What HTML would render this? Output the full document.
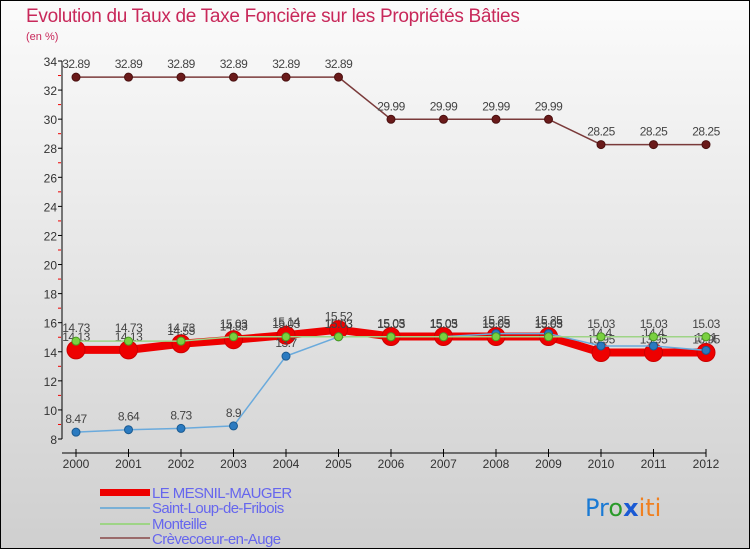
<!DOCTYPE html>
<html><head><meta charset="utf-8"><style>
body{margin:0;width:750px;height:550px;overflow:hidden;font-family:"Liberation Sans",sans-serif}
svg{display:block}
</style></head><body>
<svg id="c" width="750" height="550" xmlns="http://www.w3.org/2000/svg">
<defs><linearGradient id="bg" x1="0" y1="0" x2="0" y2="1"><stop offset="0" stop-color="#fbfbfb"/><stop offset="1" stop-color="#cfcfcf"/></linearGradient></defs>
<rect x="0.5" y="0.5" width="749" height="548" fill="url(#bg)" stroke="#000"/>
<text x="26" y="22" font-size="19" fill="#c8285a" letter-spacing="-0.3">Evolution du Taux de Taxe Foncière sur les Propriétés Bâties</text>
<text x="26" y="40" font-size="11" fill="#c8285a">(en %)</text>
<g id="axes"></g><g id="series"></g>
<g font-size="15" letter-spacing="-0.6">
<rect x="100" y="489" width="50" height="7" fill="#e00"/>
<text x="152" y="498" fill="#6666ee">LE MESNIL-MAUGER</text>
<rect x="100" y="507" width="50" height="2" fill="#7ab0d6"/>
<text x="152" y="513" fill="#6666ee">Saint-Loup-de-Fribois</text>
<rect x="100" y="523" width="50" height="2" fill="#9ed486"/>
<text x="152" y="529" fill="#6666ee">Monteille</text>
<rect x="100" y="537" width="50" height="2" fill="#9a6a6a"/>
<text x="152" y="544" fill="#6666ee">Crèvecoeur-en-Auge</text>
</g>
<g font-size="24" font-family="'DejaVu Sans',sans-serif">
<text x="585" y="516"><tspan fill="#1a7ad4">Pr</tspan><tspan fill="#2a9a2a">o</tspan><tspan fill="#1a5ad4" font-weight="bold">x</tspan><tspan fill="#f08020">iti</tspan></text>
</g>
</svg>
<script>
const years=[2000,2001,2002,2003,2004,2005,2006,2007,2008,2009,2010,2011,2012];
const yTicks=[8,10,12,14,16,18,20,22,24,26,28,30,32,34];
const mesnil=[14.13,14.13,14.55,14.83,15.14,15.52,15.05,15.05,15.05,15.05,13.95,13.95,13.95];
const saintLoup=[8.47,8.64,8.73,8.9,13.7,15.03,15.03,15.03,15.25,15.25,14.4,14.4,14.1];
const monteille=[14.73,14.73,14.73,15.03,15.03,15.03,15.03,15.03,15.03,15.03,15.03,15.03,15.03];
const crevecoeur=[32.89,32.89,32.89,32.89,32.89,32.89,29.99,29.99,29.99,29.99,28.25,28.25,28.25];
const NS="http://www.w3.org/2000/svg";
const x=i=>76+i*52.5, y=v=>439-(v-8)*378/26;
function mk(t,a,p){const e=document.createElementNS(NS,t);for(const k in a)e.setAttribute(k,a[k]);p.appendChild(e);return e;}
const ax=document.getElementById('axes'), sg=document.getElementById('series');
let l=mk('line',{x1:62,y1:61,x2:62,y2:439,stroke:'#000'},ax);


l=mk('line',{x1:62,y1:453,x2:706,y2:453,stroke:'#000'},ax);


yTicks.forEach(v=>{mk('line',{x1:58,y1:y(v),x2:62,y2:y(v),stroke:'#000'},ax);
 if(v<34) mk('line',{x1:58,y1:y(v+1),x2:61,y2:y(v+1),stroke:'#e00'},ax);
 const t=mk('text',{x:57,y:y(v)+5,'text-anchor':'end','font-size':12,fill:'#333'},ax);t.textContent=v;
 
 });
years.forEach((yr,i)=>{mk('line',{x1:x(i),y1:449,x2:x(i),y2:457,stroke:'#000'},ax);
 const t=mk('text',{x:x(i),y:468,'text-anchor':'middle','font-size':12,fill:'#333'},ax);t.textContent=yr;
 
 });
function series(d,name,col,w,r,fill,stroke){
 const g=mk('g',{},sg);
 
 
 mk('polyline',{points:d.map((v,i)=>x(i)+','+y(v)).join(' '),fill:'none',stroke:col,'stroke-width':w,'stroke-linejoin':'round'},g);
 d.forEach((v,i)=>{const c=mk('circle',{cx:x(i),cy:y(v),r:r,fill:fill,stroke:stroke},g);
  
  
  const t=mk('text',{x:x(i),y:y(v)-9,'text-anchor':'middle','font-size':12,fill:'#444','letter-spacing':'-0.5'},g);t.textContent=v;
  
  });
}
series(crevecoeur,'crevecoeur','#7a3a3a',1.5,4,'#6a1a1a','#4a1010');
series(mesnil,'mesnil','#ee0000',8,9,'#ee0000','#c00');
series(saintLoup,'saint-loup','#6aaadc',1.5,4,'#2a7ac0','#1a5a90');
series(monteille,'monteille','#9ed486',1.5,4,'#7ad040','#4a9a20');
</script>
</body></html>
